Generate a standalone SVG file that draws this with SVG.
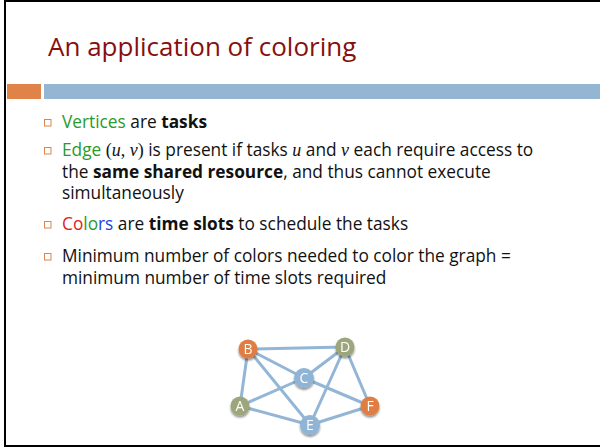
<svg xmlns="http://www.w3.org/2000/svg" width="600" height="448" viewBox="0 0 600 448">
  <defs>
    <style>
      text { font-variant-ligatures: none; }
      .title { font-family: "Open Sans", "Liberation Sans", sans-serif; font-size: 26px; fill: #860f0f; }
      .body { font-family: "Open Sans", "Liberation Sans", sans-serif; font-size: 17.3px; fill: #111; }
      .b { font-weight: bold; }
      .g { fill: #2a9a2a; }
      .math { font-family: "Liberation Serif", serif; font-style: italic; font-size: 18px; }
      .paren { font-family: "Liberation Serif", serif; font-size: 18px; }
      .bullet { fill: none; stroke: #e0844a; stroke-width: 1; }
      .edge { stroke: #93b6d6; stroke-width: 3; stroke-linecap: round; }
      .lbl { font-family: "Open Sans", "Liberation Sans", sans-serif; font-size: 14px; fill: #fff; text-anchor: middle; }
      .orange { fill: #df7d42; }
      .olive { fill: #9ca67a; }
      .blue { fill: #8fb4d6; }
    </style>
    <filter id="shadow" x="-50%" y="-50%" width="200%" height="200%">
      <feGaussianBlur in="SourceAlpha" stdDeviation="1.2"/>
      <feOffset dx="0" dy="1.5" result="s"/>
      <feComponentTransfer><feFuncA type="linear" slope="0.45"/></feComponentTransfer>
      <feMerge><feMergeNode/><feMergeNode in="SourceGraphic"/></feMerge>
    </filter>
  </defs>

  <rect x="0" y="0" width="600" height="448" fill="#fff"/>
  <!-- slide frame -->
  <rect x="5" y="1" width="600" height="445" fill="none" stroke="#000" stroke-width="2"/>

  <!-- title -->
  <text class="title" x="48" y="56">An application of coloring</text>
  <rect x="7" y="84" width="34" height="15" fill="#df8349"/>
  <rect x="44" y="84" width="556" height="15" fill="#94b6d3"/>

  <!-- bullets -->
  <g id="bullets">
    <rect class="bullet" x="44.5" y="119.5" width="6.5" height="6.5"/>
    <rect class="bullet" x="44.5" y="147.5" width="6.5" height="6.5"/>
    <rect class="bullet" x="44.5" y="221.5" width="6.5" height="6.5"/>
    <rect class="bullet" x="44.5" y="253.5" width="6.5" height="6.5"/>
  </g>

  <text class="body" x="62" y="128"><tspan class="g">Vertices</tspan> are <tspan class="b">tasks</tspan></text>
  <text class="body" x="62" y="156"><tspan class="g">Edge</tspan> <tspan class="paren">(</tspan><tspan class="math">u</tspan><tspan class="paren">, </tspan><tspan class="math">v</tspan><tspan class="paren">)</tspan> is present if tasks <tspan class="math">u</tspan> and <tspan class="math">v</tspan> each require access to</text>
  <text class="body" x="62" y="178">the <tspan class="b">same shared resource</tspan>, and thus cannot execute</text>
  <text class="body" x="62" y="199">simultaneously</text>
  <text class="body" x="62" y="230"><tspan fill="#e02020">Co</tspan><tspan fill="#2a9a2a">lo</tspan><tspan fill="#2040e0">rs</tspan> are <tspan class="b">time slots</tspan> to schedule the tasks</text>
  <text class="body" x="62" y="262">Minimum number of colors needed to color the graph =</text>
  <text class="body" x="62" y="284">minimum number of time slots required</text>

  <!-- graph connectors -->
  <g id="edges">
    <line class="edge" x1="248" y1="349" x2="345" y2="347"/>
    <line class="edge" x1="248" y1="349" x2="240" y2="406"/>
    <line class="edge" x1="248" y1="349" x2="304" y2="378"/>
    <line class="edge" x1="248" y1="349" x2="310" y2="425"/>
    <line class="edge" x1="345" y1="347" x2="304" y2="378"/>
    <line class="edge" x1="345" y1="347" x2="310" y2="425"/>
    <line class="edge" x1="345" y1="347" x2="370" y2="406"/>
    <line class="edge" x1="304" y1="378" x2="240" y2="406"/>
    <line class="edge" x1="304" y1="378" x2="370" y2="406"/>
    <line class="edge" x1="240" y1="406" x2="310" y2="425"/>
    <line class="edge" x1="310" y1="425" x2="370" y2="406"/>
  </g>

  <!-- graph nodes -->
  <g id="node-B" filter="url(#shadow)"><circle class="orange" cx="248" cy="349" r="9.5"/><text class="lbl" x="248" y="354">B</text></g>
  <g id="node-D" filter="url(#shadow)"><circle class="olive" cx="345" cy="347" r="9.5"/><text class="lbl" x="345" y="352">D</text></g>
  <g id="node-C" filter="url(#shadow)"><circle class="blue" cx="304" cy="378" r="10"/><text class="lbl" x="304" y="383">C</text></g>
  <g id="node-A" filter="url(#shadow)"><circle class="olive" cx="240" cy="406" r="9.5"/><text class="lbl" x="240" y="411">A</text></g>
  <g id="node-E" filter="url(#shadow)"><circle class="blue" cx="310" cy="425" r="10"/><text class="lbl" x="310" y="430">E</text></g>
  <g id="node-F" filter="url(#shadow)"><circle class="orange" cx="370" cy="406" r="9.5"/><text class="lbl" x="370" y="411">F</text></g>
</svg>
